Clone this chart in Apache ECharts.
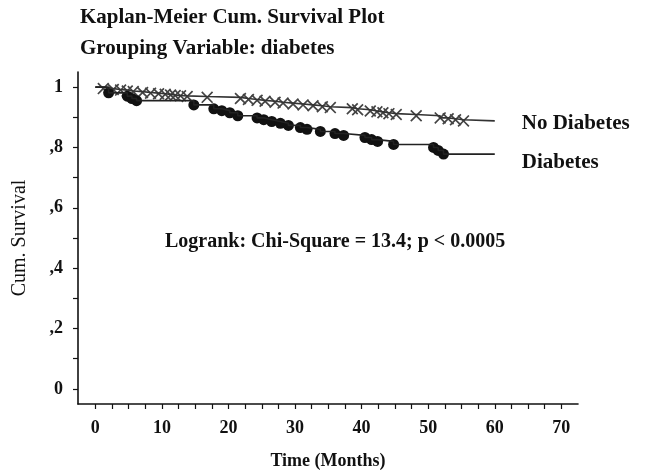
<!DOCTYPE html>
<html>
<head>
<meta charset="utf-8">
<script src="https://cdn.jsdelivr.net/npm/echarts@6/dist/echarts.min.js"></script>
<style>html,body{margin:0;padding:0;background:#fff}#c{width:648px;height:475px}</style>
</head>
<body>
<div id="c"></div>
<script>
// ---- Data ----
const titleText = 'Kaplan-Meier Cum. Survival Plot';
const subtitleText = 'Grouping Variable: diabetes';
const annotationText = 'Logrank: Chi-Square = 13.4; p < 0.0005';
const xTickLabels = [0, 10, 20, 30, 40, 50, 60, 70];
const xMinorTicks = [0,2.5,5,7.5,10,12.5,15,17.5,20,22.5,25,27.5,30,32.5,35,37.5,40,42.5,45,47.5,50,52.5,55,57.5,60,62.5,65,67.5,70];
const yTickLabels = [0, 0.2, 0.4, 0.6, 0.8, 1];
const yMinorTicks = [0,0.1,0.2,0.3,0.4,0.5,0.6,0.7,0.8,0.9,1];

// No Diabetes: survival curve (time in months, cumulative survival)
const noDiabTime = [0, 1.2, 2.7, 3.8, 4.8, 5.7, 7.1, 8.3, 9.5, 10.5, 11.3, 12.0, 12.8, 13.8, 16.8, 21.8, 23.0, 24.3, 25.5, 27.0, 28.2, 29.7, 31.2, 32.7, 34.1, 35.3, 38.6, 39.4, 41.3, 42.3, 43.2, 44.1, 45.2, 48.2, 51.8, 53.0, 54.1, 55.3, 60];
const noDiabSurv = [1.0, 0.995, 0.992, 0.990, 0.987, 0.985, 0.982, 0.980, 0.978, 0.976, 0.974, 0.972, 0.971, 0.969, 0.966, 0.962, 0.959, 0.956, 0.953, 0.950, 0.947, 0.944, 0.941, 0.938, 0.935, 0.932, 0.928, 0.925, 0.921, 0.918, 0.915, 0.912, 0.909, 0.905, 0.898, 0.895, 0.892, 0.888, 0.888];
// Diabetes
const diabTime = [0, 2.0, 4.8, 5.5, 6.2, 14.8, 17.8, 19.0, 20.2, 21.4, 24.3, 25.3, 26.5, 27.8, 29.0, 30.8, 31.8, 33.8, 36.0, 37.3, 40.5, 41.5, 42.4, 44.8, 50.8, 51.5, 52.3, 60];
const diabSurv = [1.0, 0.981, 0.970, 0.962, 0.955, 0.941, 0.928, 0.922, 0.915, 0.905, 0.898, 0.892, 0.886, 0.880, 0.873, 0.866, 0.860, 0.853, 0.846, 0.840, 0.833, 0.826, 0.820, 0.810, 0.800, 0.790, 0.778, 0.778];

const pairs = (t, s) => t.map((v, i) => [v, s[i]]);
const marks = (t, s) => pairs(t, s).slice(1, -1);

const serif = '"Liberation Serif", "DejaVu Serif", serif';
const crossPath = 'path://M0,1L1,0L5,4L9,0L10,1L6,5L10,9L9,10L5,6L1,10L0,9L4,5Z';

const chart = echarts.init(document.getElementById('c'), null, {renderer: 'canvas'});
chart.setOption({
  animation: false,
  backgroundColor: '#fff',
  title: [
    {text: titleText, left: 75, top: 2, textStyle: {fontFamily: serif, fontSize: 21, fontWeight: 'bold', color: '#111'}},
    {text: subtitleText, left: 75, top: 33, textStyle: {fontFamily: serif, fontSize: 21, fontWeight: 'bold', color: '#111'}}
  ],
  grid: {left: 78, top: 72, width: 500, height: 333, containLabel: false},
  xAxis: {
    type: 'value', min: -2.6, max: 72.5,
    name: 'Time (Months)', nameLocation: 'middle', nameGap: 48,
    nameTextStyle: {fontFamily: serif, fontSize: 18, fontWeight: 'bold', color: '#111'},
    axisLine: {show: true, onZero: false, lineStyle: {color: '#111', width: 1.6}},
    axisTick: {show: true, inside: false, length: 5, customValues: xMinorTicks, lineStyle: {color: '#111', width: 1.2}},
    axisLabel: {customValues: xTickLabels, margin: 15, fontFamily: serif, fontSize: 18, fontWeight: 'bold', color: '#111'},
    splitLine: {show: false}
  },
  yAxis: {
    type: 'value', min: -0.05, max: 1.05,
    name: 'Cum. Survival', nameLocation: 'middle', nameGap: 48,
    nameTextStyle: {fontFamily: serif, fontSize: 20, color: '#111'},
    axisLine: {show: true, onZero: false, lineStyle: {color: '#111', width: 1.6}},
    axisTick: {show: true, inside: false, length: 5, customValues: yMinorTicks, lineStyle: {color: '#111', width: 1.2}},
    axisLabel: {customValues: yTickLabels, margin: 15, fontFamily: serif, fontSize: 18, fontWeight: 'bold', color: '#111',
      formatter: v => (v === 0 ? '0' : v === 1 ? '1' : ',' + Math.round(v * 10))},
    splitLine: {show: false}
  },
  graphic: [
    {type: 'text', left: 165, top: 232, style: {text: annotationText, font: 'bold 20px ' + serif, fill: '#111'}}
  ],
  series: [
    {
      name: 'No Diabetes', type: 'line', step: 'end', showSymbol: false, symbol: 'none',
      data: pairs(noDiabTime, noDiabSurv),
      lineStyle: {color: '#333', width: 1.6},
      endLabel: {show: true, formatter: '{a}', distance: 27, offset: [0, 3], fontFamily: serif, fontSize: 21, fontWeight: 'bold', color: '#111'}
    },
    {
      name: 'Diabetes', type: 'line', step: 'end', showSymbol: false, symbol: 'none',
      data: pairs(diabTime, diabSurv),
      lineStyle: {color: '#222', width: 1.6},
      endLabel: {show: true, formatter: '{a}', distance: 27, offset: [0, 8], fontFamily: serif, fontSize: 21, fontWeight: 'bold', color: '#111'}
    },
    {
      name: 'No Diabetes censored', type: 'scatter', symbol: crossPath, symbolSize: 12,
      data: marks(noDiabTime, noDiabSurv),
      itemStyle: {color: '#444', opacity: 1}
    },
    {
      name: 'Diabetes events', type: 'scatter', symbol: 'circle', symbolSize: 11,
      data: marks(diabTime, diabSurv),
      itemStyle: {color: '#111', opacity: 1}
    }
  ]
});
</script>
</body>
</html>
